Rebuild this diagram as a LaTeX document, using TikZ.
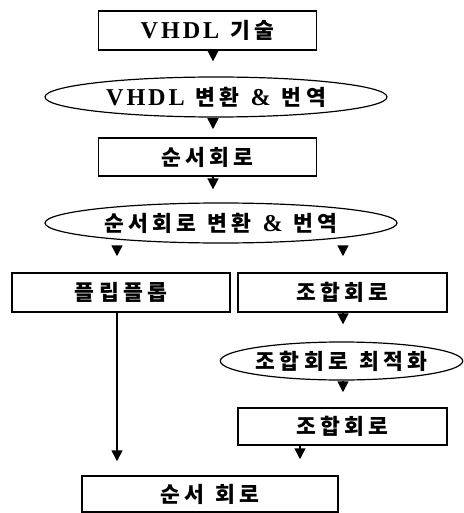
\documentclass[tikz,border=0pt]{standalone}
\usepackage{fontspec}
\setmainfont{Liberation Serif}[LetterSpace=12, Scale=1.1]
\newfontfamily\hangul[LetterSpace=20, Scale=0.98]{Noto Sans CJK KR}
\newcommand{\wgap}{\hspace{11pt}}
\usetikzlibrary{shapes,arrows.meta,calc}

\begin{document}
\begin{tikzpicture}[x=1pt,y=-1pt]
\tikzset{
	block node/.style = {rectangle, draw, line width = 1.5pt, inner sep = 0, font = \fontsize{22}{24}\selectfont\bfseries},
	oval node/.style = {ellipse, draw, line width = 1.2pt, inner sep = 0, font = \fontsize{22}{24}\selectfont\bfseries},
	down arrow/.style = {line width = 1.6pt, -{Triangle[width = 11pt, length = 11pt]}},
}
\useasboundingbox (0,0) rectangle (463,513);

\coordinate (mid) at (213,0);
\coordinate (left) at (117,0);
\coordinate (right) at (343,0);
\coordinate (low) at (300,0);

\node(vhdl)[block node, minimum width = 218, minimum height = 39] at (207.5,30.5){VHDL\wgap\hangul 기술};
\node(conv)[oval node, minimum width = 342, minimum height = 40] at (216,97){VHDL\wgap\hangul 변환\wgap\rmfamily\&\wgap\hangul 번역};
\node(seq)[block node, minimum width = 218, minimum height = 38] at (207.5,157){\hangul 순서회로};
\node(seqconv)[oval node, minimum width = 352, minimum height = 40] at (221,223){\hangul 순서회로\wgap 변환\wgap\rmfamily\&\wgap\hangul 번역};
\node(ff)[block node, minimum width = 218, minimum height = 39] at (121,292.5){\hangul 플립플롭};
\node(comb)[block node, minimum width = 209, minimum height = 39] at (342.5,292.5){\hangul 조합회로};
\node(opt)[oval node, minimum width = 241, minimum height = 38] at (341.5,361){\hangul 조합회로\wgap 최적화};
\node(comb2)[block node, minimum width = 209, minimum height = 37] at (342.5,426.5){\hangul 조합회로};
\node(out)[block node, minimum width = 256, minimum height = 36] at (210,494){\hangul 순서\wgap 회로};

\draw [down arrow, shorten >= 15] (mid |- vhdl.south) -- (mid |- conv.north);
\draw [down arrow, shorten >= 8] (mid |- conv.south) -- (mid |- seq.north);
\draw [down arrow, shorten >= 13] (mid |- seq.south) -- (mid |- seqconv.north);
\draw [down arrow, shorten <= 2, shorten >= 16] (left |- seqconv.south) -- (left |- ff.north);
\draw [down arrow, shorten <= 2, shorten >= 16] (right |- seqconv.south) -- (right |- comb.north);
\draw [down arrow, shorten >= 17] (right |- comb.south) -- (right |- opt.north);
\draw [down arrow, shorten >= 15] (right |- opt.south) -- (right |- comb2.north);
\draw [down arrow, shorten >= 16] (low |- comb2.south) -- (low |- out.north);
\draw [down arrow, shorten >= 14] (left |- ff.south) -- (left |- out.north);

\end{tikzpicture}
\end{document}
